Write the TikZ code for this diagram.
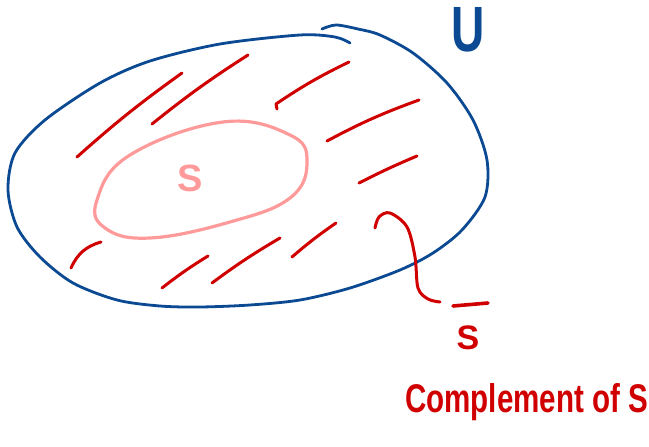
\documentclass[tikz,border=0pt]{standalone}
\usepackage{fontspec}
\setmainfont{Liberation Sans}
\usepackage{graphicx}
\definecolor{ublue}{HTML}{0B4A93}
\definecolor{hred}{HTML}{D00000}
\definecolor{spink}{HTML}{FF9A9A}
\tikzset{
  outline/.style={draw=ublue, line width=2.8pt, line cap=round, line join=round},
  hatch/.style={draw=hred, line width=3pt, line cap=round, line join=round},
  inner/.style={draw=spink, line width=3.2pt, line cap=round},
  lab/.style={inner sep=0pt},
}
\begin{document}
\begin{tikzpicture}[x=1pt,y=-1pt]
\useasboundingbox (0,0) rectangle (649,447);
% universe outline
\draw[outline] plot[smooth, tension=0.5] coordinates {(322,29) (336,25) (358,29) (380,35) (413,53) (447,83) (473,120) (487,160) (485,197) (462,230) (433,253) (400,270) (350,288) (300,300) (250,305) (200,307) (160,306) (117,300) (73,283) (40,257) (17,227) (8,190) (15,153) (45,120) (100,83) (150,61) (220,44) (300,35) (335,37) (350,43)};
% inner set S
\draw[inner] plot[smooth cycle, tension=0.7] coordinates {(97,200) (130,155) (223,122) (290,135) (307,162) (290,198) (230,222) (150,238) (105,228)};
\node[lab, text=spink, font=\bfseries\fontsize{38}{38}\selectfont] (s) at (190,178) {S};
% hatching
\draw[hatch] (77,157) to[bend left=3] (182,73);
\draw[hatch] (152,124) to[bend left=3] (248,55);
\draw[hatch] (349,62) to[bend right=4] (276,104) -- (277,109);
\draw[hatch] (327,141) to[bend left=4] (419,100);
\draw[hatch] (359,183) to[bend left=2] (417,156);
\draw[hatch] (71,268) to[bend left=25] (101,242);
\draw[hatch] (162,288) to[bend left=3] (208,256);
\draw[hatch] (212,283) to[bend left=3] (280,238);
\draw[hatch] (292,257) to[bend left=3] (336,223);
% pointer to complement
\draw[hatch] plot[smooth, tension=0.55] coordinates {(375,228) (379,217) (390,213) (407,227) (415,257) (418,288) (428,299) (440,302)};
\coordinate (barL) at (453,306);
\coordinate (barR) at (488,303);
\draw[hatch, line width=3.6pt] (barL) -- (barR);
\node[lab, text=hred, font=\bfseries\fontsize{34}{34}\selectfont] (sbar) at (468,338) {S};
% labels
\node[lab, text=ublue, font=\bfseries\fontsize{64}{64}\selectfont, xscale=0.72] (u) at (468,30) {U};
\node[lab, text=hred, anchor=base west, font=\bfseries] (comp) at (405,412) {\resizebox{243pt}{29pt}{Complement of S}};
\end{tikzpicture}
\end{document}
